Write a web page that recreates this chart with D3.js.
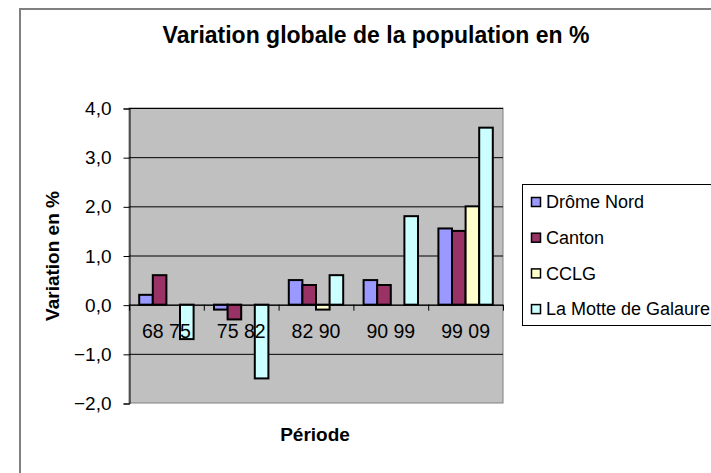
<!DOCTYPE html>
<html>
<head>
<meta charset="utf-8">
<script src="https://cdn.jsdelivr.net/npm/d3@7"></script>
<style>
  html, body { margin: 0; padding: 0; background: #fff; }
  svg { display: block; }
  text { font-family: "Liberation Sans", Arial, sans-serif; fill: #000; }
</style>
</head>
<body>
<div id="chart"></div>
<script>
// ── Data ────────────────────────────────────────────────────────────────────
var periods    = ['68 75', '75 82', '82 90', '90 99', '99 09'];
var seriesNames = ['Drôme Nord', 'Canton', 'CCLG', 'La Motte de Galaure'];
var dromeNord  = [0.2, -0.1, 0.5, 0.5, 1.55];
var canton     = [0.6, -0.3, 0.4, 0.4, 1.5];
var cclg       = [0.0, 0.0, -0.1, 0.0, 2.0];
var laMotte    = [-0.7, -1.5, 0.6, 1.8, 3.6];
var yTicks     = [-2, -1, 0, 1, 2, 3, 4];
var seriesColors = ['#9999FF', '#993366', '#FFFFCC', '#CCFFFF'];

var W = 711, H = 473;
var plot = { left: 129, right: 503, top: 108, bottom: 403 };

var svg = d3.select('#chart').append('svg').attr('width', W).attr('height', H);

// chart area border
svg.append('rect').attr('x', 20).attr('y', 9).attr('width', 720).attr('height', 500)
  .attr('fill', '#fff').attr('stroke', '#808080').attr('stroke-width', 2);

// ── Scales ──────────────────────────────────────────────────────────────────
var x0 = d3.scaleBand().domain(periods).range([plot.left, plot.right]).paddingInner(0).paddingOuter(0);
var innerW = x0.bandwidth() * 4 / 5.5;
var x1 = d3.scaleBand().domain(d3.range(seriesNames.length))
  .range([(x0.bandwidth() - innerW) / 2, (x0.bandwidth() + innerW) / 2]);
var y = d3.scaleLinear().domain([-2, 4]).range([plot.bottom, plot.top]);

// plot background
svg.append('rect').attr('x', plot.left).attr('y', plot.top)
  .attr('width', plot.right - plot.left).attr('height', plot.bottom - plot.top)
  .attr('fill', '#C0C0C0').attr('stroke', '#808080').attr('stroke-width', 1);

// gridlines
svg.append('g').selectAll('line').data(yTicks.filter(function(t) { return t !== -2; })).enter()
  .append('line')
  .attr('x1', plot.left).attr('x2', plot.right)
  .attr('y1', function(d) { return y(d) + 0.5; }).attr('y2', function(d) { return y(d) + 0.5; })
  .attr('stroke', '#000').attr('stroke-width', 1);

// y axis
var yAxis = d3.axisLeft(y).tickValues(yTicks).tickSize(6).tickPadding(12)
  .tickFormat(function(d) { return d3.format('.1f')(d).replace('.', ','); });
var yg = svg.append('g').attr('transform', 'translate(' + (plot.left + 0.5) + ',0.5)').call(yAxis);
yg.select('.domain').attr('stroke', '#000');
yg.selectAll('.tick line').attr('stroke', '#000');
yg.selectAll('.tick text').attr('font-size', '19px').attr('font-family', '"Liberation Sans", Arial, sans-serif');

// ── Bars ────────────────────────────────────────────────────────────────────
var rows = periods.map(function(p, i) {
  return { period: p, values: [dromeNord[i], canton[i], cclg[i], laMotte[i]] };
});

var groups = svg.append('g').selectAll('g').data(rows).enter().append('g')
  .attr('transform', function(d) { return 'translate(' + x0(d.period) + ',0)'; });

groups.selectAll('rect').data(function(d) {
    return d.values.map(function(v, k) { return { k: k, v: v }; });
  }).enter()
  .filter(function(d) { return d.v !== 0; })
  .append('rect')
  .attr('x', function(d) { return x1(d.k); })
  .attr('width', x1.bandwidth())
  .attr('y', function(d) { return Math.min(y(d.v), y(0)); })
  .attr('height', function(d) { return Math.abs(y(d.v) - y(0)); })
  .attr('fill', function(d) { return seriesColors[d.k]; })
  .attr('stroke', '#000').attr('stroke-width', 2);

// zero axis with category ticks
svg.append('line').attr('x1', plot.left).attr('x2', plot.right)
  .attr('y1', y(0) + 0.5).attr('y2', y(0) + 0.5).attr('stroke', '#000');
svg.append('g').selectAll('line').data(periods.concat(['end'])).enter().append('line')
  .attr('x1', function(d, i) { return plot.left + i * x0.step() + 0.5; })
  .attr('x2', function(d, i) { return plot.left + i * x0.step() + 0.5; })
  .attr('y1', y(0)).attr('y2', y(0) + 6).attr('stroke', '#000');

// category labels
svg.append('g').selectAll('text').data(periods).enter().append('text')
  .attr('x', function(d) { return x0(d) + x0.bandwidth() / 2; })
  .attr('y', y(0) + 33)
  .attr('text-anchor', 'middle').attr('font-size', '19.5px')
  .text(function(d) { return d; });

// ── Titles ──────────────────────────────────────────────────────────────────
svg.append('text').attr('x', 376).attr('y', 43).attr('text-anchor', 'middle')
  .attr('font-size', '23px').attr('font-weight', 'bold')
  .text('Variation globale de la population en %');

svg.append('text').attr('x', 315).attr('y', 441).attr('text-anchor', 'middle')
  .attr('font-size', '19px').attr('font-weight', 'bold').text('Période');

svg.append('text').attr('transform', 'translate(59,256) rotate(-90)').attr('text-anchor', 'middle')
  .attr('font-size', '19px').attr('font-weight', 'bold').text('Variation en %');

// ── Legend ──────────────────────────────────────────────────────────────────
svg.append('rect').attr('x', 522.5).attr('y', 184.5).attr('width', 250).attr('height', 141)
  .attr('fill', '#fff').attr('stroke', '#000').attr('stroke-width', 1);

var leg = svg.append('g').selectAll('g').data(seriesNames).enter().append('g')
  .attr('transform', function(d, i) { return 'translate(531,' + (202 + i * 35.7) + ')'; });
leg.append('rect').attr('x', 0.5).attr('y', -4.5).attr('width', 9).attr('height', 9)
  .attr('fill', function(d, i) { return seriesColors[i]; })
  .attr('stroke', '#000').attr('stroke-width', 1.5);
leg.append('text').attr('x', 15).attr('dy', '0.35em').attr('font-size', '18px')
  .text(function(d) { return d; });
</script>
</body>
</html>
